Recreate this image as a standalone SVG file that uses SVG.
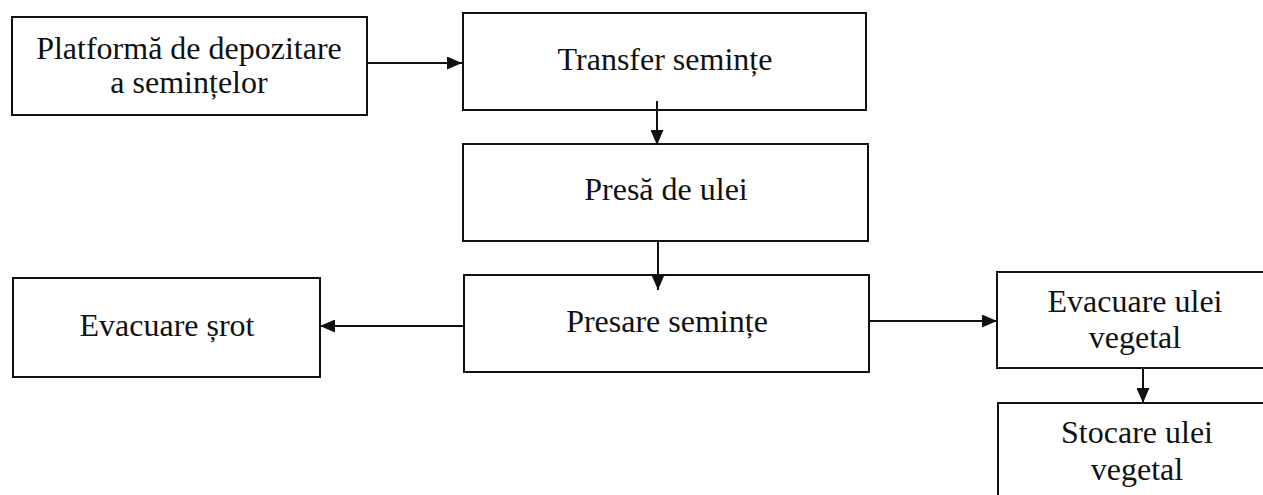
<svg xmlns="http://www.w3.org/2000/svg" width="1263" height="495" viewBox="0 0 1263 495">
<defs>
<marker id="ah" markerUnits="userSpaceOnUse" markerWidth="16" markerHeight="13" refX="15" refY="6.5" orient="auto">
<path d="M0,0 L15,6.5 L0,13 Z" fill="#111"/>
</marker>
<style>
.box{fill:#fff;stroke:#111;stroke-width:2}
.t{font-family:"Liberation Serif","Times New Roman",serif;font-size:32px;fill:#111;text-anchor:middle}
.c{fill:none;stroke:#111;stroke-width:2;marker-end:url(#ah)}
</style>
</defs>
<rect width="1263" height="495" fill="#fff"/>
<g id="n1"><rect class="box" x="12" y="17" width="355" height="98"/><text class="t" x="189" y="59">Platformă de depozitare</text><text class="t" x="189" y="93">a semințelor</text></g>
<g id="n2"><rect class="box" x="463" y="13" width="403" height="97"/><text class="t" x="665" y="70">Transfer semințe</text></g>
<g id="n3"><rect class="box" x="463" y="144" width="405" height="97"/><text class="t" x="666" y="200">Presă de ulei</text></g>
<g id="n4"><rect class="box" x="464" y="275" width="405" height="97"/><text class="t" x="667" y="332">Presare semințe</text></g>
<g id="n5"><rect class="box" x="13" y="278" width="307" height="99"/><text class="t" x="167" y="336">Evacuare șrot</text></g>
<g id="n6"><rect class="box" x="997" y="272" width="280" height="96"/><text class="t" x="1135" y="312">Evacuare ulei</text><text class="t" x="1135" y="348">vegetal</text></g>
<g id="n7"><rect class="box" x="998" y="403" width="280" height="110"/><text class="t" x="1137" y="443">Stocare ulei</text><text class="t" x="1137" y="480">vegetal</text></g>
<g id="connectors">
<path class="c" d="M367,63 H462"/>
<path class="c" d="M657,101 V145"/>
<path class="c" d="M658,241 V290"/>
<path class="c" d="M464,326 H320"/>
<path class="c" d="M869,321 H997"/>
<path class="c" d="M1143,368 V403"/>
</g>
</svg>
